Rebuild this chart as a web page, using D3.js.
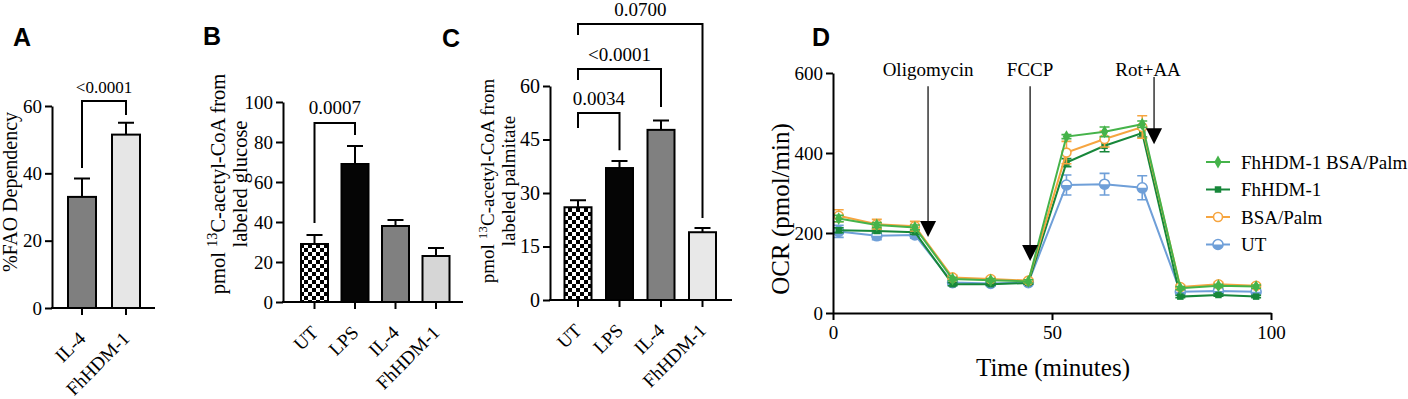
<!DOCTYPE html>
<html>
<head>
<meta charset="utf-8">
<script src="https://cdn.jsdelivr.net/npm/d3@7"></script>
<style>
  body { margin: 0; background: #fff; }
  svg text { font-family: "Liberation Serif", "Times New Roman", serif; fill: #000; }
  .letter { font-family: "Liberation Sans", Arial, sans-serif; font-weight: bold; font-size: 25px; }
</style>
</head>
<body>
<svg id="fig" width="1408" height="399"></svg>
<script>
// ---- data: panel A ----
var catsA = ["IL-4", "FhHDM-1"];
var meanA = [33, 51.5];
var semA = [5.5, 3.5];
var ticksA = [0, 20, 40, 60];
var bracketsA = [{ a: "IL-4", b: "FhHDM-1", top: 61.5, endA: 41.6, endB: 57.3, p: "<0.0001" }];

// ---- data: panels B and C ----
var catsBC = ["UT", "LPS", "IL-4", "FhHDM-1"];
var meanB = [29, 69, 38, 23];
var semB = [4.5, 9, 3, 4];
var ticksB = [0, 20, 40, 60, 80, 100];
var bracketsB = [{ a: "UT", b: "LPS", top: 89.5, endA: 39.5, endB: 83.5, p: "0.0007" }];

var meanC = [26, 37, 47.7, 19];
var semC = [2, 2, 2.6, 1.2];
var ticksC = [0, 15, 30, 45, 60];
var bracketsC = [
  { a: "UT", b: "LPS", top: 52.4, endA: 48.2, endB: 42, p: "0.0034" },
  { a: "UT", b: "IL-4", top: 64.8, endA: 61.7, endB: 54.1, p: "<0.0001" },
  { a: "UT", b: "FhHDM-1", top: 77.4, endA: 74.3, endB: 23, p: "0.0700" }
];

// ---- data: panel D (Seahorse OCR) ----
var timeD = [1.3, 10, 18.7, 27.3, 36, 44.6, 53.3, 62, 70.6, 79.3, 88, 96.6];
var ocrFhBsa = [236, 220, 214, 85, 82, 79, 441, 453, 472, 62, 68, 66];
var ocrFh    = [207, 205, 202, 72, 72, 75, 376, 418, 450, 41, 45, 41];
var ocrBsa   = [243, 222, 217, 89, 85, 81, 401, 435, 465, 65, 72, 68];
var ocrUT    = [204, 193, 195, 76, 74, 76, 320, 322, 313, 53, 55, 53];
var errFhBsa = [8, 6, 6, 4, 4, 4, 5, 12, 8, 4, 4, 4];
var errFh    = [6, 5, 5, 4, 3, 3, 10, 15, 10, 3, 3, 3];
var errBsa   = [15, 12, 12, 5, 4, 4, 28, 20, 28, 5, 5, 5];
var errUT    = [15, 10, 8, 4, 4, 4, 25, 27, 30, 4, 4, 4];
var ticksDx = [0, 50, 100];
var ticksDy = [0, 200, 400, 600];
var legendOrder = ["FhHDM-1 BSA/Palm", "FhHDM-1", "BSA/Palm", "UT"];
var injections = [
  { label: "Oligomycin", t: 21.7, from: 567, to: 190 },
  { label: "FCCP", t: 45, from: 567, to: 130 },
  { label: "Rot+AA", t: 73.3, from: 590, to: 422 }
];

var svg = d3.select("#fig");

// checkerboard fill for UT bars
var pat = svg.append("defs").append("pattern")
  .attr("id", "checker").attr("width", 8).attr("height", 8)
  .attr("patternUnits", "userSpaceOnUse");
pat.append("rect").attr("width", 8).attr("height", 8).attr("fill", "#fff");
pat.append("rect").attr("width", 4).attr("height", 4).attr("fill", "#000");
pat.append("rect").attr("x", 4).attr("y", 4).attr("width", 4).attr("height", 4).attr("fill", "#000");

function barPanel(o) {
  var g = svg.append("g");
  var y = d3.scaleLinear().domain([0, o.ticks[o.ticks.length - 1]]).range(o.yRange);
  var x = d3.scaleBand().domain(o.cats).range(o.xRange)
    .paddingInner(o.pad).paddingOuter(o.pad / 2);
  var cx = function (c) { return x(c) + x.bandwidth() / 2; };

  // error bars (upper only)
  g.selectAll("path.err").data(o.means).join("path")
    .attr("class", "err")
    .attr("d", function (d, i) {
      var c = cx(o.cats[i]), top = y(d + o.sems[i]);
      return "M" + c + "," + y(d) + "V" + top + "M" + (c - 8) + "," + top + "H" + (c + 8);
    })
    .attr("fill", "none").attr("stroke", "#000").attr("stroke-width", 2);

  // bars
  g.selectAll("rect.bar").data(o.means).join("rect")
    .attr("class", "bar")
    .attr("x", function (d, i) { return x(o.cats[i]); })
    .attr("width", x.bandwidth())
    .attr("y", function (d) { return y(d); })
    .attr("height", function (d) { return y(0) - y(d); })
    .attr("fill", function (d, i) { return o.fills[i]; })
    .attr("stroke", "#000").attr("stroke-width", 2);

  // y axis
  var ya = g.append("g").attr("transform", "translate(" + o.axisX + ",0)")
    .call(d3.axisLeft(y).tickValues(o.ticks).tickSize(7).tickSizeOuter(0).tickPadding(3));
  ya.attr("font-family", null).attr("font-size", null);
  ya.selectAll("path,line").attr("stroke", "#000").attr("stroke-width", 2);
  ya.selectAll("text").style("font-size", o.tickFont + "px");

  // x axis
  var xa = g.append("g").attr("transform", "translate(0," + y(0) + ")")
    .call(d3.axisBottom(x).tickSize(7).tickSizeOuter(0));
  xa.attr("font-family", null).attr("font-size", null);
  xa.select(".domain").remove();
  xa.append("line").attr("x1", o.axisX - 1).attr("x2", o.xEnd)
    .attr("stroke", "#000").attr("stroke-width", 2);
  xa.selectAll("line").attr("stroke", "#000").attr("stroke-width", 2);
  xa.selectAll(".tick text")
    .attr("x", 0).attr("y", 0).attr("dy", "0.35em")
    .attr("text-anchor", "end")
    .attr("transform", "translate(0,27) rotate(-45)")
    .style("font-size", o.catFont + "px");

  // y title
  o.title.forEach(function (line, k) {
    var t = g.append("text")
      .attr("transform", "translate(" + o.titleX[k] + "," + o.titleY + ") rotate(-90)")
      .attr("text-anchor", "middle").attr("dy", "0.35em")
      .style("font-size", o.titleFont + "px");
    line.forEach(function (seg) {
      var ts = t.append("tspan").text(seg.t);
      if (seg.sup) ts.attr("baseline-shift", "super").style("font-size", (o.titleFont * 0.7) + "px");
    });
  });

  // significance brackets
  o.brackets.forEach(function (b) {
    var xa1 = cx(b.a), xb1 = cx(b.b);
    g.append("path")
      .attr("d", "M" + xa1 + "," + y(b.endA) + "V" + y(b.top) + "H" + xb1 + "V" + y(b.endB))
      .attr("fill", "none").attr("stroke", "#000").attr("stroke-width", 2);
    g.append("text").attr("x", (xa1 + xb1) / 2).attr("y", y(b.top) - o.pGap)
      .attr("text-anchor", "middle").style("font-size", o.pFont + "px").text(b.p);
  });
}

barPanel({
  cats: catsA, means: meanA, sems: semA, ticks: ticksA,
  fills: ["#7f7f7f", "#e6e6e6"],
  yRange: [308, 106], xRange: [60, 148], pad: 1 - 28 / 44,
  axisX: 52, xEnd: 155, tickFont: 19, catFont: 19,
  title: [[{ t: "%FAO Dependency" }]], titleX: [10], titleY: 192, titleFont: 20,
  brackets: bracketsA, pFont: 17, pGap: 8
});

barPanel({
  cats: catsBC, means: meanB, sems: semB, ticks: ticksB,
  fills: ["url(#checker)", "#050505", "#808080", "#d6d6d6"],
  yRange: [302, 102], xRange: [294.25, 456.25], pad: 1 - 27 / 40.5,
  axisX: 283, xEnd: 463, tickFont: 19, catFont: 19,
  title: [[{ t: "pmol " }, { t: "13", sup: true }, { t: "C-acetyl-CoA from" }], [{ t: "labeled glucose" }]],
  titleX: [218, 240], titleY: 184, titleFont: 20.5,
  brackets: bracketsB, pFont: 19, pGap: 9
});

barPanel({
  cats: catsBC, means: meanC, sems: semC, ticks: ticksC,
  fills: ["url(#checker)", "#050505", "#808080", "#e8e8e8"],
  yRange: [300, 86], xRange: [557.25, 723.25], pad: 1 - 27 / 41.5,
  axisX: 550, xEnd: 732, tickFont: 20, catFont: 19,
  title: [[{ t: "pmol " }, { t: "13", sup: true }, { t: "C-acetyl-CoA from" }], [{ t: "labeled palmitate" }]],
  titleX: [487, 508], titleY: 181, titleFont: 19,
  brackets: bracketsC, pFont: 19, pGap: 8
});

// ---- panel D ----
var gD = svg.append("g");
var xD = d3.scaleLinear().domain([0, 100]).range([833, 1271]);
var yD = d3.scaleLinear().domain([0, 600]).range([313, 73]);

var seriesD = [
  { name: "UT", vals: ocrUT, errs: errUT, color: "#6f9fd8", mark: "half" },
  { name: "FhHDM-1", vals: ocrFh, errs: errFh, color: "#17873a", mark: "square" },
  { name: "BSA/Palm", vals: ocrBsa, errs: errBsa, color: "#f6a540", mark: "open" },
  { name: "FhHDM-1 BSA/Palm", vals: ocrFhBsa, errs: errFhBsa, color: "#45b34a", mark: "diamond" }
];

function drawMarker(sel, s) {
  if (s.mark === "square") {
    sel.append("path").attr("d", d3.symbol(d3.symbolSquare, 42)()).attr("fill", s.color);
  } else if (s.mark === "diamond") {
    sel.append("path").attr("d", d3.symbol(d3.symbolDiamond, 48)()).attr("fill", s.color);
  } else if (s.mark === "open") {
    sel.append("circle").attr("r", 4.5).attr("fill", "#fff").attr("stroke", s.color).attr("stroke-width", 1.6);
  } else {
    sel.append("circle").attr("r", 5).attr("fill", "#fff").attr("stroke", s.color).attr("stroke-width", 1.6);
    sel.append("path").attr("d", "M-5,0A5,5 0 0,0 5,0Z").attr("fill", s.color);
  }
}

var lineD = d3.line().x(function (d) { return xD(d[0]); }).y(function (d) { return yD(d[1]); });

seriesD.forEach(function (s) {
  var pts = timeD.map(function (t, i) { return [t, s.vals[i], s.errs[i]]; });
  var gs = gD.append("g");
  gs.selectAll("path.eb").data(pts).join("path")
    .attr("d", function (d) {
      var x0 = xD(d[0]), lo = yD(d[1] - d[2]), hi = yD(d[1] + d[2]);
      return "M" + x0 + "," + lo + "V" + hi + "M" + (x0 - 5) + "," + hi + "H" + (x0 + 5) +
        "M" + (x0 - 5) + "," + lo + "H" + (x0 + 5);
    })
    .attr("fill", "none").attr("stroke", s.color).attr("stroke-width", 1.6);
  gs.append("path").datum(pts).attr("d", lineD)
    .attr("fill", "none").attr("stroke", s.color).attr("stroke-width", 2);
  gs.selectAll("g.mk").data(pts).join("g")
    .attr("transform", function (d) { return "translate(" + xD(d[0]) + "," + yD(d[1]) + ")"; })
    .each(function () { drawMarker(d3.select(this), s); });
});

var xaD = gD.append("g").attr("transform", "translate(0," + yD(0) + ")")
  .call(d3.axisBottom(xD).tickValues(ticksDx).tickSize(7).tickSizeOuter(0).tickPadding(6));
var yaD = gD.append("g").attr("transform", "translate(" + xD(0) + ",0)")
  .call(d3.axisLeft(yD).tickValues(ticksDy).tickSize(7).tickSizeOuter(0).tickPadding(3));
[xaD, yaD].forEach(function (a) {
  a.attr("font-family", null).attr("font-size", null);
  a.selectAll("path,line").attr("stroke", "#000").attr("stroke-width", 2);
  a.selectAll("text").style("font-size", "19px");
});

gD.append("text").attr("x", 1053).attr("y", 376).attr("text-anchor", "middle")
  .style("font-size", "25px").text("Time (minutes)");
gD.append("text").attr("transform", "translate(780,209) rotate(-90)")
  .attr("text-anchor", "middle").attr("dy", "0.35em")
  .style("font-size", "25px").text("OCR (pmol/min)");

// injection arrows
injections.forEach(function (a) {
  var xx = xD(a.t), y0 = yD(a.from), y1 = yD(a.to);
  gD.append("line").attr("x1", xx).attr("x2", xx).attr("y1", y0).attr("y2", y1 - 14)
    .attr("stroke", "#000").attr("stroke-width", 1.2);
  gD.append("path").attr("d", "M" + (xx - 8) + "," + (y1 - 16) + "L" + (xx + 8) + "," + (y1 - 16) + "L" + xx + "," + y1 + "Z")
    .attr("fill", "#000");
  gD.append("text").attr("x", xx - (a.label === "Rot+AA" ? 6 : 0)).attr("y", yD(592))
    .attr("text-anchor", "middle").style("font-size", "19px").text(a.label);
});

// legend
var legD = gD.append("g").attr("transform", "translate(1206,162)");
legendOrder.forEach(function (name, i) {
  var s = seriesD.find(function (d) { return d.name === name; });
  var r = legD.append("g").attr("transform", "translate(0," + (i * 27.5) + ")");
  r.append("line").attr("x1", 0).attr("x2", 24).attr("stroke", s.color).attr("stroke-width", 2);
  drawMarker(r.append("g").attr("transform", "translate(12,0)"), s);
  r.append("text").attr("x", 35).attr("dy", "0.35em").style("font-size", "19px").text(s.name);
});

// panel letters
[["A", 13, 46], ["B", 203, 45], ["C", 442, 47], ["D", 812, 46]].forEach(function (l) {
  svg.append("text").attr("class", "letter").attr("x", l[1]).attr("y", l[2]).text(l[0]);
});
</script>
</body>
</html>
